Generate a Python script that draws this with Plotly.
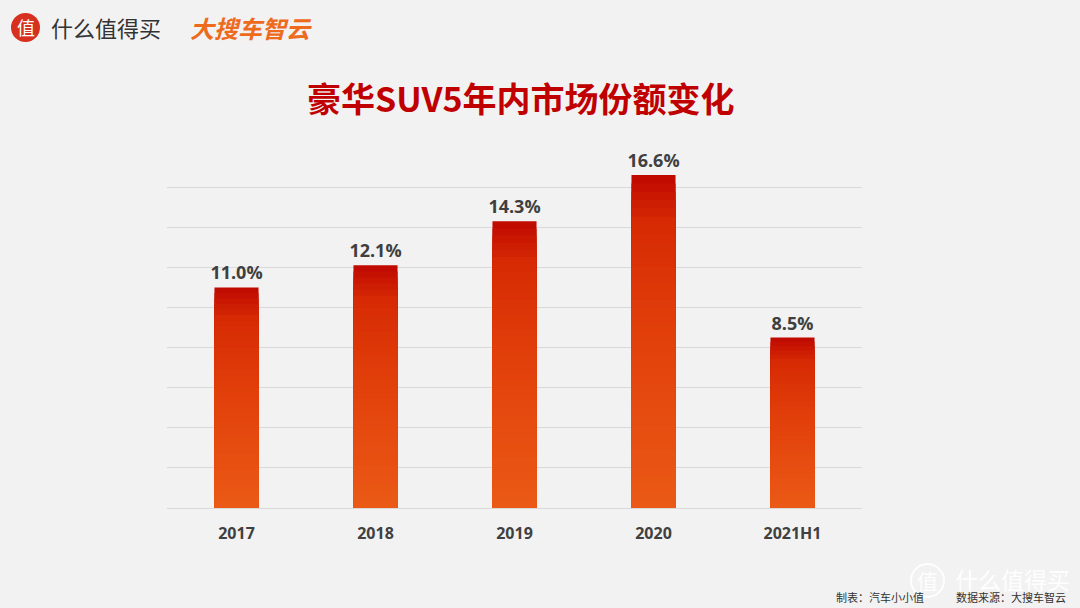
import plotly.graph_objects as go

categories = ["2017", "2018", "2019", "2020", "2021H1"]
shares = [11.0, 12.1, 14.3, 16.6, 8.5]
labels = ["11.0%", "12.1%", "14.3%", "16.6%", "8.5%"]

title_text = "豪华SUV5年内市场份额变化"
footer_left = "制表：汽车小小值"
footer_right = "数据来源：大搜车智云"

# gradient stops: (fraction of bar height from bottom, rgb)
stops = [(0.0, (235, 90, 22)), (0.55, (225, 62, 10)), (0.86, (214, 42, 4)), (1.0, (190, 8, 0))]


def grad(f):
    for (f0, c0), (f1, c1) in zip(stops[:-1], stops[1:]):
        if f0 <= f <= f1:
            t = (f - f0) / (f1 - f0)
            return "rgb(%d,%d,%d)" % tuple(round(a + (b - a) * t) for a, b in zip(c0, c1))
    return "rgb(%d,%d,%d)" % stops[-1][1]


N = 40
fig = go.Figure()
for k in range(N):
    frac = 1 - k / N
    f_mid = (N - k - 0.5) / N
    fig.add_trace(go.Bar(
        x=categories,
        y=[v * frac for v in shares],
        marker=dict(color=grad(f_mid), line=dict(width=0)),
        text=labels if k == 0 else None,
        textposition="outside" if k == 0 else "none",
        constraintext="none",
        textfont=dict(family="Open Sans", size=18, color="#3F3F3F", weight="bold"),
        cliponaxis=False,
        hoverinfo="skip" if k else "x+y",
        showlegend=False,
    ))

fig.update_layout(
    width=1080, height=608,
    paper_bgcolor="#F2F2F2", plot_bgcolor="#F2F2F2",
    margin=dict(l=167, r=218, t=147, b=100),
    barmode="overlay", bargap=0.683,
    xaxis=dict(showgrid=False, showline=False, ticks="", ticklabelstandoff=14,
               tickfont=dict(family="Open Sans", size=16, color="#404040", weight="bold")),
    yaxis=dict(range=[0, 18], dtick=2, tick0=0, showticklabels=False,
               gridcolor="#D9D9D9", gridwidth=1, zeroline=True, zerolinecolor="#D9D9D9",
               zerolinewidth=1),
    font=dict(family="Noto Sans CJK SC"),
)


def px(x):
    return (x - 167) / 695


def py(y):
    return (508 - y) / 361


# title
fig.add_annotation(text="<b>" + title_text + "</b>", xref="paper", yref="paper",
                   x=px(520), y=py(97), xanchor="center", yanchor="middle",
                   showarrow=False, font=dict(family="Noto Sans CJK SC", size=34, color="#C00000"))

# top-left logo
fig.add_shape(type="circle", xref="paper", yref="paper",
              x0=px(11), x1=px(40), y0=py(42), y1=py(13),
              fillcolor="#D8301E", line=dict(width=0))
fig.add_annotation(text="值", xref="paper", yref="paper", x=px(25.5), y=py(27),
                   xanchor="center", yanchor="middle", showarrow=False,
                   font=dict(family="Noto Sans CJK SC", size=18, color="white"))
fig.add_annotation(text="什么值得买", xref="paper", yref="paper", x=px(49), y=py(27),
                   xanchor="left", yanchor="middle", showarrow=False,
                   font=dict(family="Noto Sans CJK SC", size=22, color="#333333"))
fig.add_annotation(text="<b><i>大搜车智云</i></b>", xref="paper", yref="paper", x=px(188),
                   y=py(27), xanchor="left", yanchor="middle", showarrow=False,
                   font=dict(family="Noto Sans CJK SC", size=24, color="#EE6A1C"))

# watermark bottom right
fig.add_shape(type="circle", xref="paper", yref="paper",
              x0=px(911), x1=px(944), y0=py(597), y1=py(564),
              fillcolor="rgba(255,255,255,0)", line=dict(width=2, color="rgba(255,255,255,0.9)"))
fig.add_annotation(text="值", xref="paper", yref="paper", x=px(927), y=py(580),
                   xanchor="center", yanchor="middle", showarrow=False,
                   font=dict(family="Noto Sans CJK SC", size=21, color="rgba(255,255,255,0.95)"))
fig.add_annotation(text="什么值得买", xref="paper", yref="paper", x=px(953), y=py(579),
                   xanchor="left", yanchor="middle", showarrow=False,
                   font=dict(family="Noto Sans CJK SC", size=23, color="rgba(255,255,255,0.95)"))

# footer
fig.add_annotation(text=footer_left, xref="paper", yref="paper", x=px(834), y=py(597),
                   xanchor="left", yanchor="middle", showarrow=False,
                   font=dict(family="Noto Sans CJK SC", size=11, color="#333333"))
fig.add_annotation(text=footer_right, xref="paper", yref="paper", x=px(954), y=py(597),
                   xanchor="left", yanchor="middle", showarrow=False,
                   font=dict(family="Noto Sans CJK SC", size=11, color="#333333"))

fig.write_html("out.html", config={"displayModeBar": False},
               post_script="document.body.style.margin='0';")
